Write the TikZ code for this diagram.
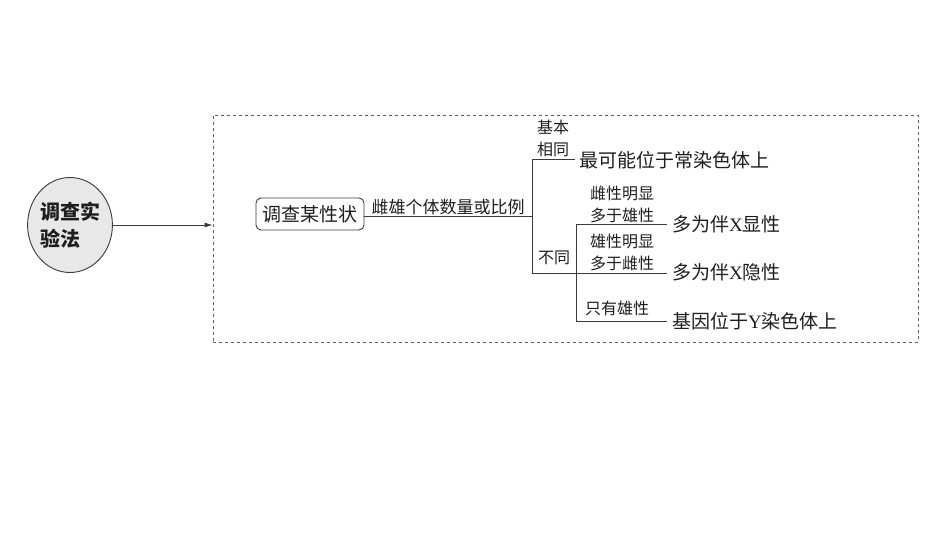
\documentclass[tikz,border=0pt]{standalone}
\usepackage{fontspec}
\setmainfont{Noto Sans CJK SC}
\newfontfamily\lat{Liberation Serif}
\usetikzlibrary{shapes.geometric,arrows.meta}
\definecolor{ln}{HTML}{3A3A3A}
\definecolor{tx}{HTML}{1E1E1E}
\tikzset{
  main/.style={font=\fontsize{19}{22}\selectfont, text=tx, inner sep=0pt},
  small/.style={font=\fontsize{16}{22}\selectfont, text=tx, inner sep=0pt, align=center},
  conn/.style={draw=ln, line width=0.9pt},
}
\begin{document}
\begin{tikzpicture}[x=1pt,y=-1pt]
\useasboundingbox[fill=white] (0,0) rectangle (950,535);
% left ellipse
\node[ellipse, draw=ln, line width=0.9pt, fill=gray!18, minimum width=75pt, minimum height=95pt, inner sep=0pt,
      font=\fontsize{20}{27}\selectfont\bfseries, align=left, text=tx] (ell) at (70,225) {调查实\\验法\phantom{实}};
% dashed frame
\node[draw=ln!80, dashed, line width=0.8pt, minimum width=705pt, minimum height=227pt, inner sep=0pt] (frame) at (565.5,228.5) {};
\draw[conn, -{Latex[length=8pt,width=5pt]}] (ell.east) -- (ell.east -| frame.west);
% trait box
\node[draw=ln, line width=0.9pt, rounded corners=5pt, minimum width=108pt, minimum height=32pt, main] (trait) at (310,214) {调查某性状};
\coordinate (j1) at (532,216);
\coordinate (t1) at (532,159);
\coordinate (t2) at (575,159);
\coordinate (b1) at (532,273);
\coordinate (v1) at (576,224);
\coordinate (v2) at (576,273);
\coordinate (v3) at (576,321);
\coordinate (e1) at (667,224);
\coordinate (e2) at (667,273);
\coordinate (e3) at (667,321);
\draw[conn] (trait.east |- j1) -- (j1);
\node[small, font=\fontsize{17}{22}\selectfont] (ratio) at (448,207) {雌雄个体数量或比例};
\draw[conn] (t2) -- (t1) -- (b1) -- (v2);
\draw[conn] (v1) -- (v3);
\draw[conn] (v1) -- (e1);
\draw[conn] (v2) -- (e2);
\draw[conn] (v3) -- (e3);
% labels
\node[small] (same) at (553,138) {基本\\相同};
\node[small] (diff) at (554,258) {不同};
\node[small] (l1) at (622,204) {雌性明显\\多于雄性};
\node[small] (l2) at (622,252) {雄性明显\\多于雌性};
\node[small] (l3) at (617,308) {只有雄性};
% results
\node[main, anchor=west] (r0) at (579,160) {最可能位于常染色体上};
\node[main, anchor=west] (r1) at (672,224) {多为伴{\lat X}显性};
\node[main, anchor=west] (r2) at (672,272) {多为伴{\lat X}隐性};
\node[main, anchor=west] (r3) at (672,321) {基因位于{\lat Y}染色体上};
\end{tikzpicture}
\end{document}
